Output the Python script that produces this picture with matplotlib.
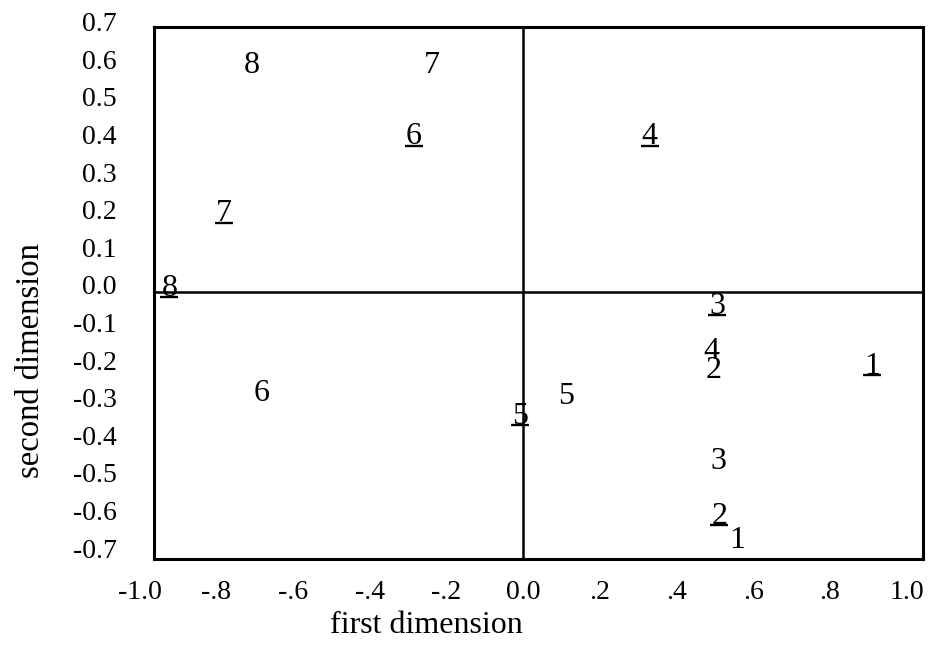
import matplotlib
matplotlib.use("Agg")
import matplotlib.pyplot as plt
import matplotlib.transforms as mtransforms

plt.rcParams['font.family'] = ['Liberation Serif', 'DejaVu Serif']

# plain labels
plain_labels = ['8', '7', '4', '2', '5', '6', '3', '1']
plain_x = [-0.708, -0.238, 0.492, 0.497, 0.113, -0.682, 0.510, 0.559]
plain_y = [0.593, 0.593, -0.168, -0.218, -0.287, -0.279, -0.460, -0.670]

# underlined labels
under_labels = ['6', '4', '7', '8', '3', '1', '5', '2']
under_x = [-0.285, 0.330, -0.781, -0.922, 0.507, 0.911, -0.007, 0.512]
under_y = [0.404, 0.404, 0.199, 0.000, -0.048, -0.207, -0.340, -0.606]

xticks = [-1.0, -0.8, -0.6, -0.4, -0.2, 0.0, 0.2, 0.4, 0.6, 0.8, 1.0]
xticklabels = ['-1.0', '-.8', '-.6', '-.4', '-.2', '0.0', '.2', '.4', '.6', '.8', '1.0']
yticks = [0.7, 0.6, 0.5, 0.4, 0.3, 0.2, 0.1, 0.0, -0.1, -0.2, -0.3, -0.4, -0.5, -0.6, -0.7]
yticklabels = ['%.1f' % v for v in yticks]

fig = plt.figure(figsize=(9.29, 6.52), dpi=100)

# the box is drawn a little inside the tick range, like the scanned original
frame = fig.add_axes([0.1658, 0.1426, 0.8278, 0.816])
frame.set_xticks([])
frame.set_yticks([])
for s in frame.spines.values():
    s.set_linewidth(2.2)

ax = fig.add_axes([0.1502, 0.1426, 0.8434, 0.824])
ax.set_facecolor('none')
for s in ax.spines.values():
    s.set_visible(False)

for lab, x, y in zip(plain_labels, plain_x, plain_y):
    ax.text(x, y, lab, fontsize=23, ha='center', va='center_baseline', clip_on=False)
for lab, x, y in zip(under_labels, under_x, under_y):
    ax.text(x, y, lab, fontsize=23, ha='center', va='center_baseline', clip_on=False)

# underline marks, shifted below each underlined label
below = mtransforms.offset_copy(ax.transData, fig=fig, x=0, y=-9.0, units='points')
ax.plot(under_x, under_y, ls='none', marker='_', markersize=12.5,
        markeredgewidth=1.7, color='black', transform=below, clip_on=False)

v = ax.axvline(0.0, color='black', lw=1.8)
h = ax.axhline(-0.02, color='black', lw=1.8)
v.set_clip_path(frame.patch)
h.set_clip_path(frame.patch)

ax.set_xticks(xticks)
ax.set_xticklabels(xticklabels)
ax.set_yticks(yticks)
ax.set_yticklabels(yticklabels)
ax.set_xlim(-1.0, 1.043)
ax.set_ylim(-0.729, 0.7)
ax.tick_params(axis='both', length=0, labelsize=20)
ax.tick_params(axis='x', pad=15)
ax.tick_params(axis='y', pad=16.5)

ax.set_xlabel('first dimension', fontsize=23)
ax.set_ylabel('second dimension', fontsize=23.5)
ax.xaxis.set_label_coords(0.3657, -0.097)
ax.yaxis.set_label_coords(-0.12, 0.37)

plt.savefig('out.png', dpi=100)
